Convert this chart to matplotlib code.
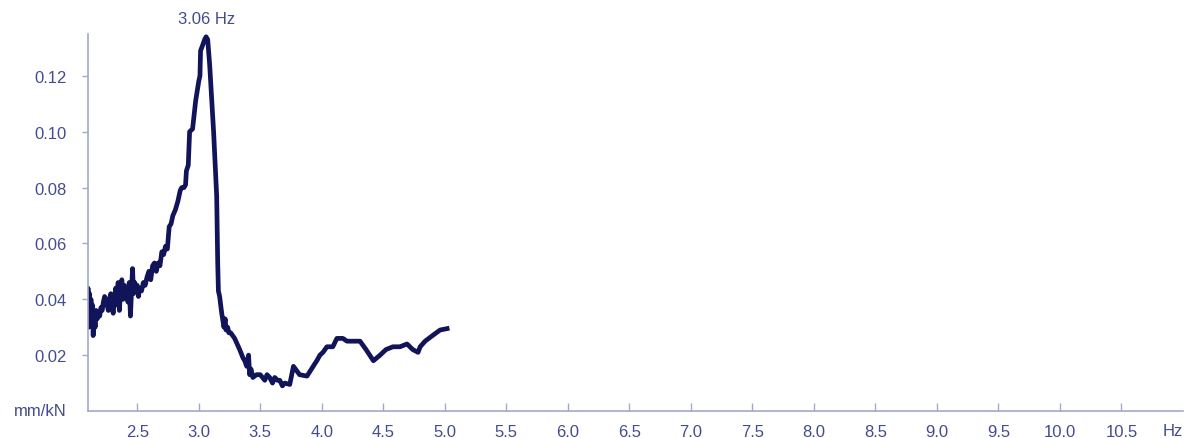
import matplotlib.pyplot as plt
import numpy as np

# Frequency response: compliance (mm/kN) against frequency (Hz)
freq_hz = [
    2.095, 2.100, 2.106, 2.112, 2.118, 2.124, 2.130, 2.136, 2.142, 2.150,
    2.158, 2.166, 2.175, 2.185, 2.195, 2.205, 2.215, 2.225, 2.235, 2.245,
    2.255, 2.265, 2.275, 2.285, 2.295, 2.305, 2.315, 2.325, 2.335, 2.345,
    2.355, 2.365, 2.375, 2.385, 2.395, 2.405, 2.415, 2.425, 2.435, 2.445,
    2.455, 2.462, 2.470, 2.480, 2.490, 2.500, 2.510, 2.520, 2.535, 2.550,
    2.565, 2.580, 2.595, 2.610, 2.625, 2.640, 2.655, 2.670, 2.685, 2.700,
    2.715, 2.730, 2.745, 2.760, 2.775, 2.790, 2.810, 2.830, 2.850, 2.862,
    2.880, 2.893, 2.900, 2.915, 2.926, 2.950, 2.975, 3.000, 3.010, 3.015,
    3.032, 3.048, 3.060, 3.073, 3.089, 3.105, 3.121, 3.146, 3.154, 3.160,
    3.170, 3.187, 3.205, 3.215, 3.222, 3.235, 3.245, 3.260, 3.292, 3.333,
    3.360, 3.374, 3.390, 3.405, 3.414, 3.425, 3.440, 3.470, 3.500, 3.537,
    3.555, 3.577, 3.600, 3.618, 3.640, 3.659, 3.680, 3.700, 3.740, 3.770,
    3.820, 3.880, 3.930, 3.945, 3.960, 3.985, 4.010, 4.042, 4.090, 4.123,
    4.172, 4.205, 4.260, 4.311, 4.360, 4.420, 4.474, 4.522, 4.579, 4.636,
    4.693, 4.740, 4.783, 4.800, 4.840, 4.900, 4.962, 5.019,
]
compliance = [
    0.031, 0.044, 0.030, 0.042, 0.033, 0.040, 0.031, 0.038, 0.027, 0.034,
    0.030, 0.036, 0.033, 0.035, 0.034, 0.037, 0.036, 0.039, 0.041, 0.040,
    0.038, 0.036, 0.040, 0.042, 0.037, 0.035, 0.040, 0.044, 0.038, 0.046,
    0.036, 0.043, 0.047, 0.040, 0.045, 0.041, 0.043, 0.039, 0.046, 0.034,
    0.044, 0.051, 0.042, 0.046, 0.043, 0.045, 0.041, 0.044, 0.043, 0.046,
    0.045, 0.048, 0.050, 0.047, 0.052, 0.053, 0.050, 0.053, 0.052, 0.057,
    0.056, 0.059, 0.058, 0.066, 0.067, 0.070, 0.072, 0.075, 0.079, 0.080,
    0.080, 0.081, 0.086, 0.088, 0.100, 0.101, 0.111, 0.118, 0.120, 0.129,
    0.131, 0.133, 0.134, 0.133, 0.124, 0.112, 0.100, 0.077, 0.054, 0.043,
    0.041, 0.035, 0.030, 0.033, 0.029, 0.030, 0.028, 0.028, 0.026, 0.022,
    0.019, 0.018, 0.016, 0.020, 0.013, 0.015, 0.012, 0.013, 0.013, 0.011,
    0.013, 0.012, 0.010, 0.012, 0.011, 0.011, 0.009, 0.010, 0.0095, 0.016,
    0.013, 0.0125, 0.016, 0.017, 0.018, 0.020, 0.021, 0.023, 0.023, 0.026,
    0.026, 0.025, 0.025, 0.025, 0.022, 0.018, 0.020, 0.022, 0.023, 0.023,
    0.024, 0.022, 0.021, 0.023, 0.025, 0.027, 0.029, 0.0295,
]

x_ticks = np.arange(2.5, 10.51, 0.5)
y_ticks = [0.02, 0.04, 0.06, 0.08, 0.10, 0.12]

line_color = "#12145a"
text_color = "#434c8e"
axis_color = "#a3a7cc"
fs = 12

plt.rcParams["font.family"] = ["Liberation Sans", "DejaVu Sans"]

fig = plt.figure(figsize=(11.94, 4.39), dpi=100)
ax = fig.add_axes([0.0737, 0.0615, 0.917, 0.8588])

ax.plot(freq_hz, compliance, color=line_color, lw=3.4, solid_joinstyle="round")

# label the resonance peak
i_peak = int(np.argmax(compliance))
ax.annotate(f"{freq_hz[i_peak]:.2f} Hz", xy=(freq_hz[i_peak], compliance[i_peak]),
            xytext=(0, 13), textcoords="offset points", ha="center", va="center",
            color=text_color, fontsize=fs, annotation_clip=False)

ax.set_xlim(2.1, 11.0)
ax.set_ylim(0.0, 0.135)
ax.set_xticks(x_ticks)
ax.set_xticklabels([f"{v:.1f}" for v in x_ticks])
ax.set_yticks(y_ticks)
ax.set_yticklabels([f"{v:.2f}" for v in y_ticks])

for side in ["top", "right"]:
    ax.spines[side].set_visible(False)
for side in ["left", "bottom"]:
    ax.spines[side].set_color(axis_color)
    ax.spines[side].set_linewidth(1.2)

ax.tick_params(axis="x", direction="in", length=6, width=1, color=axis_color,
               labelcolor=text_color, labelsize=fs, pad=9)
ax.tick_params(axis="y", direction="out", length=4.5, width=1, color=axis_color,
               labelcolor=text_color, labelsize=fs, pad=11)

# unit labels at the axis ends
fig.text(40 / 1194, 1 - 412 / 439, "mm/kN", color=text_color, fontsize=fs,
         ha="center", va="center")
fig.text(1173 / 1194, 1 - 432 / 439, "Hz", color=text_color, fontsize=fs,
         ha="center", va="center")

fig.savefig("out.png", dpi=100)
